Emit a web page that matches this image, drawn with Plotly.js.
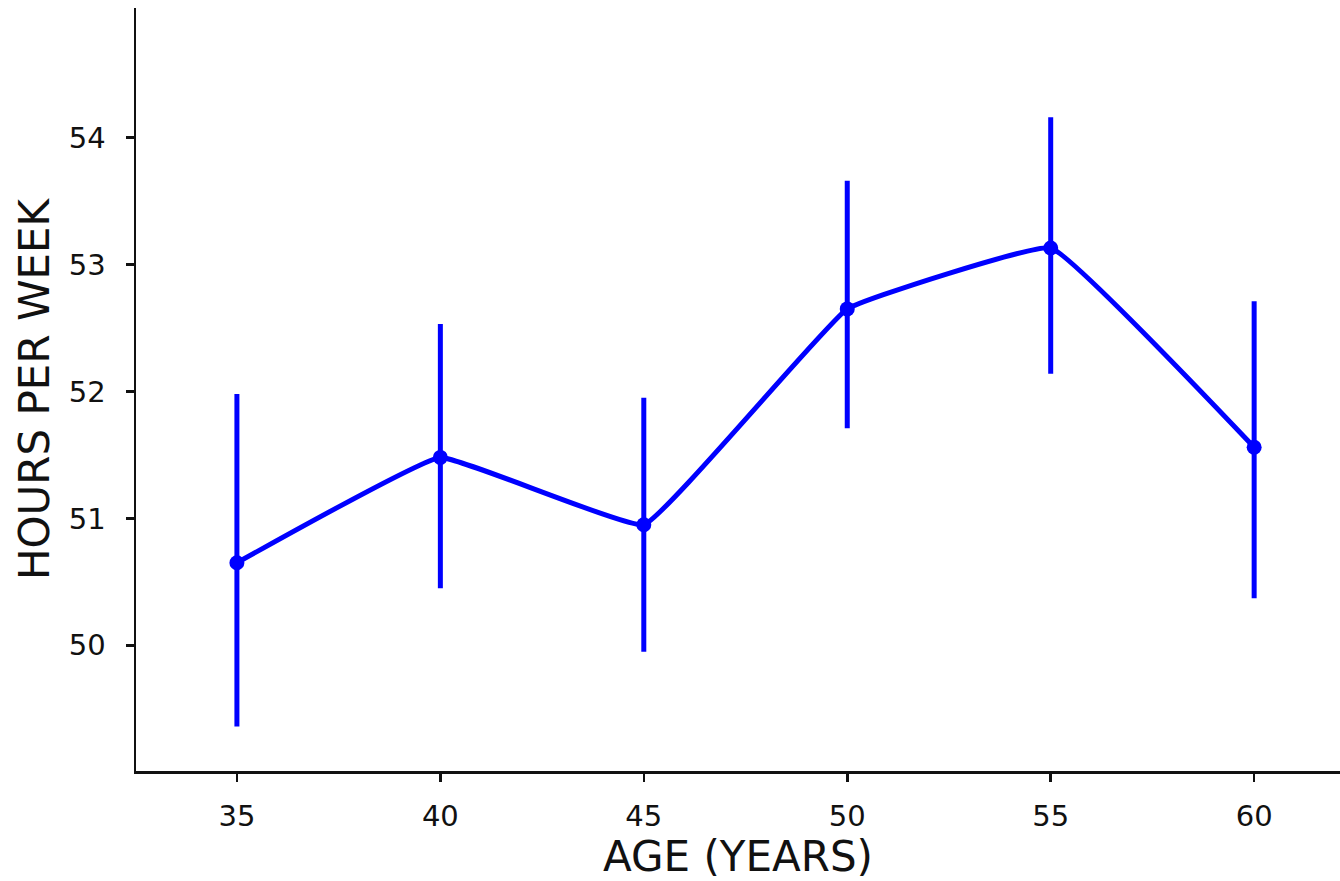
<!DOCTYPE html>
<html>
<head>
<meta charset="utf-8">
<script src="https://cdn.plot.ly/plotly-3.0.1.min.js"></script>
<style>html,body{margin:0;padding:0;background:#fff;}#chart{width:1340px;height:881px;}</style>
</head>
<body>
<div id="chart"></div>
<script>
const ages = [35, 40, 45, 50, 55, 60];
const hours = [50.65, 51.48, 50.95, 52.65, 53.13, 51.56];
const errUpper = [1.33, 1.05, 1.0, 1.01, 1.03, 1.15];
const errLower = [1.29, 1.03, 1.0, 0.94, 0.99, 1.19];
const xTicks = [35, 40, 45, 50, 55, 60];
const yTicks = [50, 51, 52, 53, 54];
const xLabel = "AGE (YEARS)";
const yLabel = "HOURS PER WEEK";

const font = "'DejaVu Sans', 'Noto Sans', sans-serif";

Plotly.newPlot("chart", [{
  x: ages,
  y: hours,
  type: "scatter",
  mode: "lines+markers",
  line: {color: "#0000ff", width: 5, shape: "spline", smoothing: 0.25},
  marker: {color: "#0000ff", size: 15},
  error_y: {type: "data", symmetric: false, array: errUpper, arrayminus: errLower,
            color: "#0000ff", thickness: 5, width: 0}
}], {
  width: 1340, height: 881,
  margin: {l: 136, r: 0, t: 8, b: 110},
  paper_bgcolor: "#fff", plot_bgcolor: "#fff",
  showlegend: false,
  font: {family: font, color: "#111", size: 29},
  xaxis: {
    range: [32.52, 62.11], tickvals: xTicks, ticktext: xTicks.map(String),
    showgrid: false, zeroline: false, showline: true, linecolor: "#111", linewidth: 2.5,
    ticks: "outside", ticklen: 8, tickwidth: 2.5, tickcolor: "#111",
    tickfont: {size: 29, family: font}, ticklabelstandoff: 10,
    title: {text: xLabel, font: {size: 42, family: font}, standoff: 2}
  },
  yaxis: {
    range: [49.01, 55.02], tickvals: yTicks, ticktext: yTicks.map(String),
    showgrid: false, zeroline: false, showline: true, linecolor: "#111", linewidth: 2.5,
    ticks: "outside", ticklen: 8, tickwidth: 2.5, tickcolor: "#111",
    tickfont: {size: 29, family: font}, ticklabelstandoff: 14,
    title: {text: yLabel, font: {size: 42, family: font}, standoff: 6}
  }
}, {displayModeBar: false, staticPlot: true});
</script>
</body>
</html>
